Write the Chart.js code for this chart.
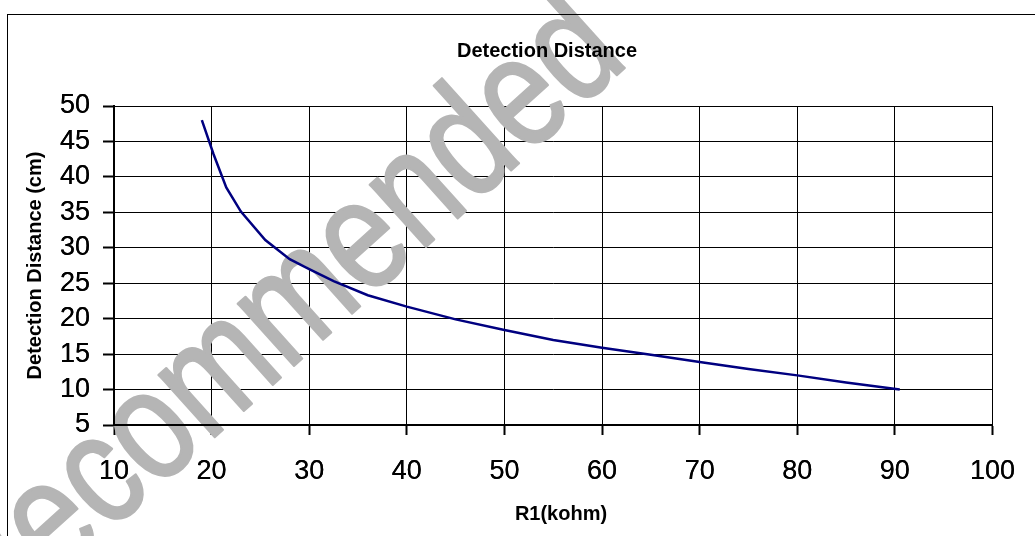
<!DOCTYPE html>
<html>
<head>
<meta charset="utf-8">
<script src="https://cdn.jsdelivr.net/npm/chart.js@4"></script>
<style>
  html, body { margin: 0; padding: 0; background: #fff; overflow: hidden; }
  #wrap { width: 1035px; height: 536px; position: relative; }
</style>
</head>
<body>
<div id="wrap"><canvas id="c" width="1035" height="536"></canvas></div>
<script>
// ---- data ----
const r1Values = [19, 20.2, 21.5, 23, 25.5, 28, 30, 32.5, 36, 40, 45, 50, 55, 60, 65, 70, 75, 80, 85, 90.5];
const distanceValues = [48, 43.2, 38.5, 35.1, 31.1, 28.4, 27, 25.3, 23.3, 21.7, 19.9, 18.4, 17.0, 15.9, 14.9, 13.9, 12.9, 12, 11, 10];
const chartTitle = 'Detection Distance';
const xTitle = 'R1(kohm)';
const yTitle = 'Detection Distance (cm)';
const watermarkText = 'Recommended';
const xRange = [10, 100, 10];
const yRange = [5, 50, 5];

const FONT = "'Liberation Sans', Arial, sans-serif";

const points = r1Values.map((x, i) => ({ x: x, y: distanceValues[i] }));

const decor = {
  id: 'decor',
  beforeDraw(chart) {
    const ctx = chart.ctx;
    ctx.save();
    ctx.fillStyle = '#ffffff';
    ctx.fillRect(0, 0, chart.width, chart.height);
    ctx.restore();
  },
  beforeDatasetsDraw(chart) {
    const ctx = chart.ctx;
    ctx.save();
    ctx.translate(-14, 643);
    ctx.rotate(-42 * Math.PI / 180);
    ctx.scale(0.81, 1);
    ctx.fillStyle = 'rgb(181,181,181)';
    ctx.strokeStyle = 'rgb(181,181,181)';
    ctx.lineWidth = 2.5;
    ctx.lineJoin = 'round';
    ctx.font = '158px ' + FONT;
    ctx.textBaseline = 'alphabetic';
    ctx.textAlign = 'left';
    ctx.fillText(watermarkText, 0, 0);
    ctx.strokeText(watermarkText, 0, 0);
    ctx.restore();
  },
  afterDatasetsDraw(chart) {
    const xs = chart.scales.x, ys = chart.scales.y;
    xs.drawLabels(chart.chartArea);
    ys.drawLabels(chart.chartArea);
    xs.drawBorder();
    ys.drawBorder();
  },
  afterDraw(chart) {
    const ctx = chart.ctx;
    ctx.save();
    ctx.strokeStyle = '#000';
    ctx.lineWidth = 1;
    ctx.strokeRect(7.5, 14.5, 3000, 3000);
    ctx.fillStyle = '#000';
    ctx.font = 'bold 20px ' + FONT;
    ctx.textAlign = 'center';
    ctx.textBaseline = 'middle';
    ctx.fillText(chartTitle, 547, 51);
    ctx.fillText(xTitle, 561, 514);
    ctx.restore();
  }
};

new Chart(document.getElementById('c'), {
  type: 'scatter',
  data: {
    datasets: [{
      data: points,
      showLine: true,
      borderColor: '#000080',
      borderWidth: 2.5,
      pointRadius: 0,
      tension: 0,
      fill: false
    }]
  },
  options: {
    responsive: false,
    animation: false,
    devicePixelRatio: 1,
    layout: { padding: { left: 0, right: 36, top: 106, bottom: 0 } },
    plugins: { legend: { display: false }, title: { display: false }, tooltip: { enabled: false } },
    scales: {
      x: {
        type: 'linear',
        min: xRange[0], max: xRange[1],
        afterFit(s) { s.height = 111; },
        ticks: { stepSize: xRange[2], color: '#000', font: { family: FONT, size: 27 }, padding: 20, maxRotation: 0 },
        grid: { color: '#000', lineWidth: 1, drawTicks: true, tickLength: 10, tickWidth: 2, tickColor: '#000' },
        border: { display: true, color: '#000', width: 2 },
        title: { display: false, text: xTitle }
      },
      y: {
        type: 'linear',
        min: yRange[0], max: yRange[1],
        afterFit(s) { s.width = 114; },
        ticks: { stepSize: yRange[2], color: '#000', font: { family: FONT, size: 27 }, padding: 13 },
        grid: { color: '#000', lineWidth: 1, drawTicks: true, tickLength: 11, tickWidth: 2, tickColor: '#000' },
        border: { display: true, color: '#000', width: 2 },
        title: { display: true, text: yTitle, color: '#000', font: { family: FONT, size: 20, weight: 'bold', lineHeight: 1 }, padding: { top: 25, bottom: 0 } }
      }
    }
  },
  plugins: [decor]
});
</script>
</body>
</html>
